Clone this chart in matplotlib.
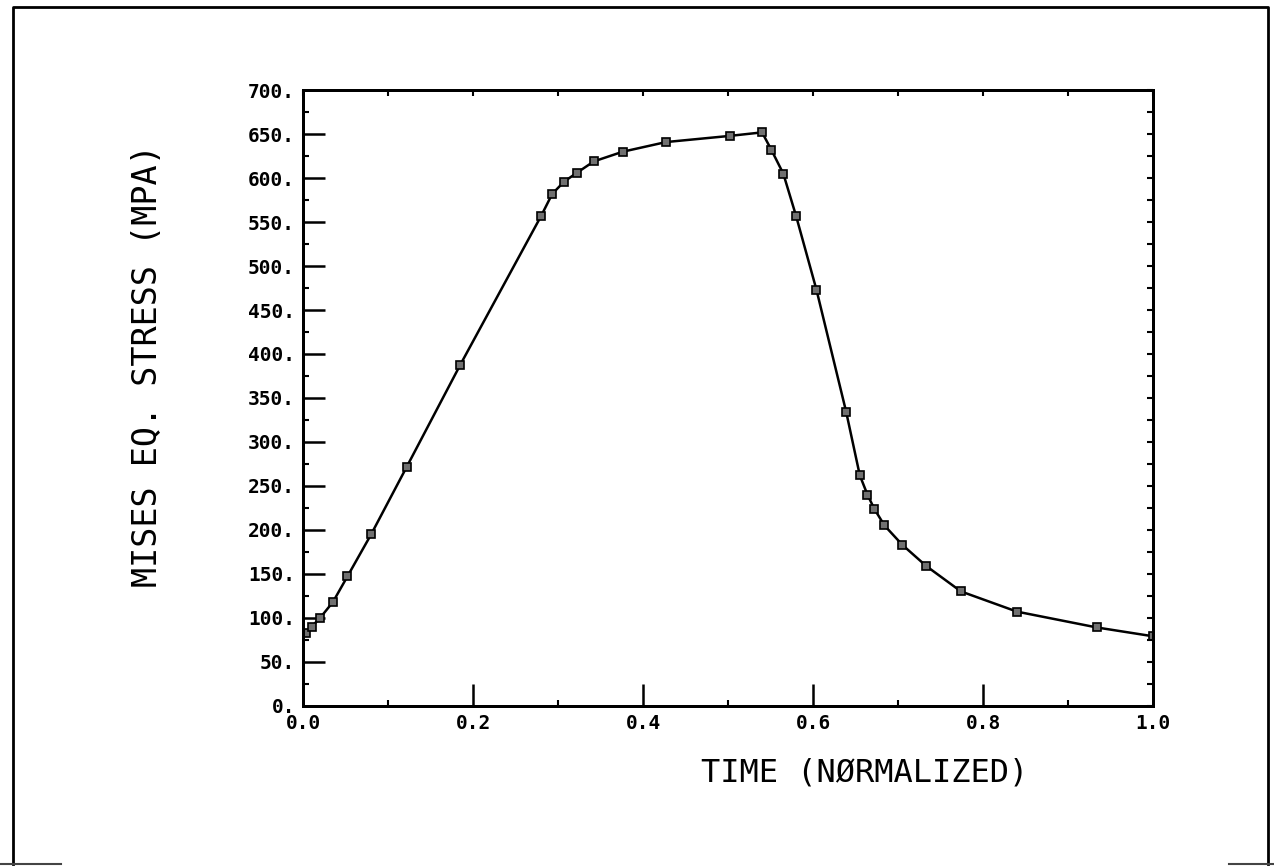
import matplotlib
matplotlib.use("Agg")
import matplotlib.pyplot as plt
from matplotlib.ticker import MultipleLocator, FuncFormatter
from matplotlib.lines import Line2D

# normalized time and Mises equivalent stress (MPa)
time_norm = [0.003, 0.010, 0.020, 0.035, 0.052, 0.080, 0.122, 0.185,
             0.280, 0.293, 0.307, 0.322, 0.342, 0.376, 0.427, 0.502,
             0.540, 0.551, 0.565, 0.580, 0.604, 0.639, 0.655, 0.664,
             0.672, 0.684, 0.705, 0.733, 0.774, 0.840, 0.934, 1.000]
stress = [83, 90, 100, 118, 147, 195, 272, 388,
          557, 582, 596, 606, 619, 630, 641, 648,
          652, 632, 605, 557, 473, 334, 262, 240,
          224, 205, 183, 159, 130, 107, 89, 79]

x_label = "TIME (NØRMALIZED)"
y_label = "MISES EQ. STRESS (MPA)"

mono = "DejaVu Sans Mono"

fig = plt.figure(figsize=(12.74, 8.67), dpi=100)
ax = fig.add_axes([0.238, 0.186, 0.667, 0.710])

ax.plot(time_norm, stress, color="black", lw=1.8, marker="s", ms=6,
        mfc="#707070", mec="black", mew=1.2)

ax.set_xlim(0, 1.0)
ax.set_ylim(0, 700)
ax.xaxis.set_major_locator(MultipleLocator(0.2))
ax.xaxis.set_minor_locator(MultipleLocator(0.1))
ax.yaxis.set_major_locator(MultipleLocator(50))
ax.yaxis.set_minor_locator(MultipleLocator(25))
ax.xaxis.set_major_formatter(FuncFormatter(lambda v, p: "%.1f" % v))
ax.yaxis.set_major_formatter(FuncFormatter(lambda v, p: "%d." % round(v)))

# long inward ticks on left/bottom, short ones on top/right
ax.tick_params(which="major", direction="in", length=16, width=1.8,
               labelsize=14, pad=6)
ax.tick_params(which="minor", direction="in", length=4, width=1.5)
ax.tick_params(which="both", top=False, right=False)
for lab in ax.get_xticklabels() + ax.get_yticklabels():
    lab.set_family(mono)
    lab.set_fontweight("bold")

ax2 = ax.twinx()
ax2.set_ylim(0, 700)
ax2.yaxis.set_major_locator(MultipleLocator(25))
ax2.tick_params(direction="in", length=4, width=1.5, labelright=False)
ax3 = ax.twiny()
ax3.set_xlim(0, 1.0)
ax3.xaxis.set_major_locator(MultipleLocator(0.1))
ax3.tick_params(direction="in", length=4, width=1.5, labeltop=False)

for a in (ax, ax2, ax3):
    for s in a.spines.values():
        s.set_linewidth(2)

fig.text(0.679, 0.108, x_label, family=mono, fontsize=23,
         ha="center", va="center")
fig.text(0.116, 0.578, y_label, family=mono, fontsize=24,
         rotation=90, ha="center", va="center")

# outer border of the page (bottom edge only shows at the corners)
fig.add_artist(Line2D([0.010, 0.010, 0.995, 0.995],
                      [0.003, 0.992, 0.992, 0.003],
                      transform=fig.transFigure, color="black", lw=2))
fig.add_artist(Line2D([0.0, 0.048], [0.004, 0.004],
                      transform=fig.transFigure, color="#444444", lw=1.5))
fig.add_artist(Line2D([0.965, 1.0], [0.004, 0.004],
                      transform=fig.transFigure, color="#444444", lw=1.5))

fig.savefig("out.png", dpi=100, facecolor="white")
